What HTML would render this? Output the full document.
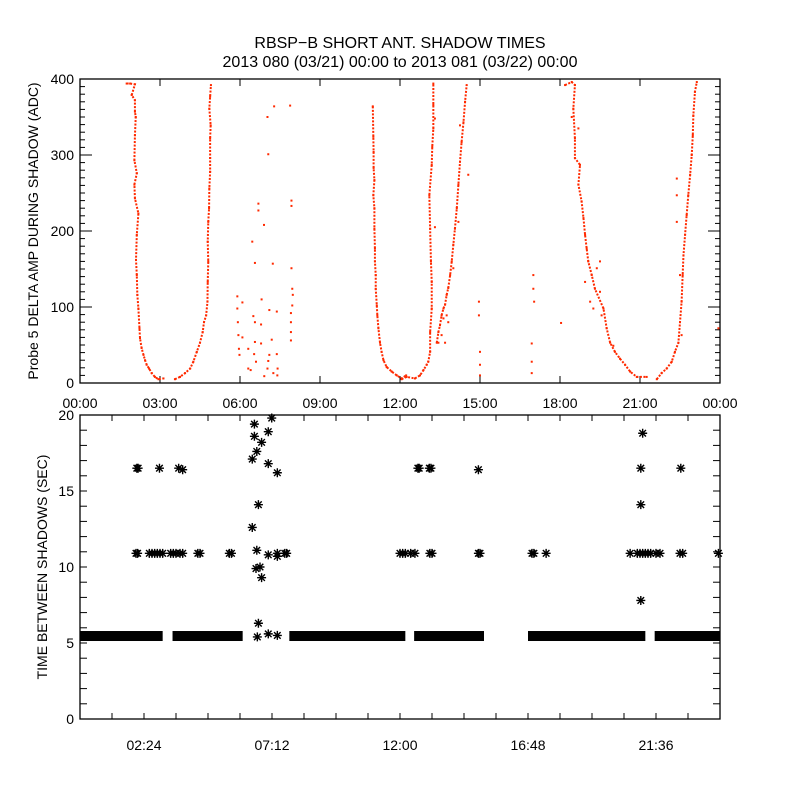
<!DOCTYPE html>
<html><head><meta charset="utf-8"><style>
body{margin:0;background:#fff;width:800px;height:800px;overflow:hidden}
svg text{font-family:"Liberation Sans",sans-serif;fill:#000}
</style></head><body>
<svg id="c" width="800" height="800" xmlns="http://www.w3.org/2000/svg">
<text x="400" y="48" font-size="16" text-anchor="middle">RBSP−B SHORT ANT. SHADOW TIMES</text>
<text x="400" y="67" font-size="16" text-anchor="middle">2013 080 (03/21) 00:00 to 2013 081 (03/22) 00:00</text>
<text transform="translate(38,231) rotate(-90)" font-size="14" text-anchor="middle">Probe 5 DELTA AMP DURING SHADOW (ADC)</text>
<text transform="translate(47,567) rotate(-90)" font-size="14" text-anchor="middle">TIME BETWEEN SHADOWS (SEC)</text>
<g id="topPanel"></g>
<g id="botPanel"></g>
</svg>
<script>
// ---- data ----
const topTicks=["00:00","03:00","06:00","09:00","12:00","15:00","18:00","21:00","00:00"];
const topYTicks=[0,100,200,300,400];
const botTickLabels=["02:24","07:12","12:00","16:48","21:36"];
const botYTicks=[0,5,10,15,20];
// top panel branches [hour, ADC]
const branchA=[[1.75,394],[1.88,394],[2.06,393],[1.94,379],[2.06,372],[2.06,357],[2.09,350],[2.06,326],[2.04,293],[2.13,276],[2.04,261],[2.06,243],[2.19,223],[2.13,195],[2.1,162],[2.13,142],[2.15,116],[2.19,98],[2.23,72],[2.25,59],[2.31,46],[2.38,37],[2.44,30],[2.5,24],[2.59,19],[2.69,13],[2.81,8],[2.94,5],[3.13,6]];
const branchB=[[3.56,5],[3.75,8],[3.94,13],[4.13,19],[4.25,28],[4.38,41],[4.5,53],[4.6,67],[4.65,80],[4.73,89],[4.78,107],[4.79,133],[4.81,160],[4.79,186],[4.81,212],[4.84,230],[4.85,256],[4.88,278],[4.88,296],[4.88,322],[4.9,339],[4.85,361],[4.88,377],[4.91,392]];
const scatterMid=[[5.9,114],[5.9,98],[5.92,80],[5.94,63],[5.96,45],[5.98,37],[6.09,106],[6.46,186],[6.56,158],[6.69,236],[6.69,227],[6.9,208],[6.81,110],[6.5,88],[6.56,80],[6.79,77],[6.09,60],[6.56,54],[6.79,52],[6.31,45],[6.53,38],[6.6,28],[6.31,19],[6.4,17],[6.91,9],[7.06,29],[7.03,19],[7.1,37],[7.19,57],[7.25,13],[7.38,38],[7.41,19],[7.4,10],[7.1,96],[7.38,94],[7.06,301],[7.03,350],[7.28,364],[7.88,365],[7.23,157],[7.93,240],[7.93,233],[7.93,151],[7.96,124],[7.98,116],[7.96,102],[7.91,92],[7.91,80],[7.91,67],[7.91,56],
[14.96,107],[14.96,89],[15,41],[15,24],[15,10],[17,142],[17,124],[17.03,107],[16.94,52],[16.94,28],[16.94,13],[18.04,79],[23.94,72]];
const branchC=[[10.98,364],[11,324],[11.01,304],[11.01,283],[11.04,267],[11,247],[11.04,230],[11.04,203],[11.06,177],[11.06,160],[11.09,142],[11.09,124],[11.13,102],[11.15,89],[11.19,72],[11.25,53],[11.31,41],[11.38,30],[11.5,21],[11.69,15],[11.88,10],[12.06,6],[12.23,10]];
const branchD=[[12.06,5],[12.25,8],[12.56,6],[12.75,10],[12.88,17],[13,24],[13.06,28],[13.13,41],[13.13,67],[13.19,98],[13.19,133],[13.16,160],[13.13,203],[13.1,247],[13.19,287],[13.21,311],[13.25,335],[13.25,366],[13.25,394]];
const branchE=[[13.38,53],[13.44,67],[13.5,76],[13.56,89],[13.63,98],[13.69,103],[13.75,116],[13.81,125],[13.88,142],[13.94,160],[14,182],[14.06,203],[14.13,230],[14.19,261],[14.25,291],[14.31,317],[14.38,343],[14.44,370],[14.5,392]];
const scatterE=[[13.31,348],[13.31,205],[13.44,53],[13.56,63],[13.75,89],[13.81,80],[14.25,339],[14.56,274],[14.19,212],[14,151],[13.63,85],[13.69,53],[18.44,350],[18.69,335],[19.38,151],[19.5,160],[19.5,120],[19.25,98],[18.94,133],[19.13,107],[19.56,89],[20,49],[22.38,269],[22.38,247],[22.38,212],[22.5,142],[22.56,63]];
const branchF=[[18.19,392],[18.44,396],[18.56,392],[18.5,361],[18.56,322],[18.56,296],[18.75,287],[18.69,261],[18.81,239],[18.88,217],[18.94,195],[19,177],[19.06,160],[19.19,142],[19.31,124],[19.63,98],[19.75,72],[19.88,53],[20.06,41],[20.25,32],[20.44,24],[20.63,15],[20.88,8],[21.25,8]];
const branchG=[[21.63,5],[21.81,13],[22,19],[22.19,28],[22.31,41],[22.44,53],[22.5,80],[22.56,107],[22.6,142],[22.63,168],[22.69,195],[22.75,221],[22.81,247],[22.88,274],[22.94,300],[22.98,326],[23,352],[23.06,383],[23.13,396]];
// bottom panel
const bandStart=[0,3.47,7.85,12.53,16.8,21.55];
const bandEnd=[3.1,6.1,12.2,15.15,21.2,24];
const bandValue=5.46;
const starH=[2.1,2.16,2.6,2.7,2.8,2.9,3.0,3.1,3.4,3.5,3.6,3.75,3.85,4.42,4.5,5.6,5.68,6.63,7.06,7.4,7.4,7.68,7.75,12.0,12.1,12.2,12.4,12.56,13.12,13.2,14.94,15.0,16.95,17.02,17.48,20.63,20.9,21.0,21.1,21.2,21.3,21.4,21.6,21.75,22.5,22.6,23.94,
2.13,2.18,2.98,3.7,3.85,12.67,12.72,13.1,13.16,14.94,21.03,22.53,
6.46,6.54,6.54,6.63,6.81,7.06,7.19,7.06,7.4,6.69,6.46,6.6,6.75,6.81,6.69,6.65,7.06,7.4,21.1,21.03,21.03];
const starV=[10.9,10.9,10.9,10.9,10.9,10.9,10.9,10.9,10.9,10.9,10.9,10.9,10.9,10.9,10.9,10.9,10.9,11.1,10.8,10.9,10.7,10.9,10.9,10.9,10.9,10.9,10.9,10.9,10.9,10.9,10.9,10.9,10.9,10.9,10.9,10.9,10.9,10.9,10.9,10.9,10.9,10.9,10.9,10.9,10.9,10.9,10.9,
16.5,16.5,16.5,16.5,16.4,16.5,16.5,16.5,16.5,16.4,16.5,16.5,
17.1,19.4,18.6,17.6,18.2,18.9,19.8,16.8,16.2,14.1,12.6,9.9,10.0,9.3,6.3,5.4,5.6,5.5,18.8,14.1,7.8];
// ---- drawing ----
const NS="http://www.w3.org/2000/svg";
function el(tag,attrs,parent){const e=document.createElementNS(NS,tag);for(const k in attrs)e.setAttribute(k,attrs[k]);parent.appendChild(e);return e;}
const L=80,R=720;
const xS=h=>L+h*(R-L)/24;
const T1=79,B1=383,yT=v=>B1-v*(B1-T1)/400;
const T2=415,B2=719,yB=v=>B2-v*(B2-T2)/20;
const topG=document.getElementById('topPanel'),botG=document.getElementById('botPanel');
let f=el('rect',{x:L,y:T1,width:R-L,height:B1-T1,fill:'none',stroke:'#000','stroke-width':1.3},topG);


topTicks.forEach((t,i)=>{const x=xS(i*3);
 el('line',{x1:x,x2:x,y1:B1,y2:B1-7,stroke:'#000'},topG);el('line',{x1:x,x2:x,y1:T1,y2:T1+7,stroke:'#000'},topG);
 const tx=el('text',{x:x,y:408,'font-size':14,'text-anchor':'middle'},topG);tx.textContent=t;
 
 });
for(let v=0;v<=400;v+=10){const y=yT(v),len=v%100===0?12:5;
 el('line',{x1:L,x2:L+len,y1:y,y2:y,stroke:'#000'},topG);el('line',{x1:R,x2:R-len,y1:y,y2:y,stroke:'#000'},topG);}
topYTicks.forEach(v=>{const tx=el('text',{x:74,y:yT(v)+5,'font-size':14,'text-anchor':'end'},topG);tx.textContent=v;
 
 });
const branches=[branchA,branchB,branchC,branchD,branchE,branchF,branchG];
branches.forEach(b=>{const pl=el('polyline',{points:b.map(p=>xS(p[0])+','+yT(p[1])).join(' '),fill:'none',stroke:'#ff2a00','stroke-width':2,'stroke-dasharray':'2 1.5'},topG);
 
 });
[...branches.flat(),...scatterMid,...scatterE].forEach(p=>{const r=el('rect',{x:xS(p[0])-1,y:yT(p[1])-1,width:2,height:2,fill:'#ff2a00'},topG);
 
 });
f=el('rect',{x:L,y:T2,width:R-L,height:B2-T2,fill:'none',stroke:'#000','stroke-width':1.3},botG);


for(let h=1.2;h<24;h+=1.2){const x=xS(h);
 el('line',{x1:x,x2:x,y1:B2,y2:B2-6,stroke:'#000'},botG);el('line',{x1:x,x2:x,y1:T2,y2:T2+6,stroke:'#000'},botG);}
botTickLabels.forEach((t,i)=>{const tx=el('text',{x:xS(2.4+i*4.8),y:750,'font-size':14,'text-anchor':'middle'},botG);tx.textContent=t;
 
 });
for(let v=0;v<=20;v+=1){const y=yB(v);
 el('line',{x1:L,x2:L+7,y1:y,y2:y,stroke:'#000'},botG);el('line',{x1:R,x2:R-7,y1:y,y2:y,stroke:'#000'},botG);}
botYTicks.forEach(v=>{const tx=el('text',{x:74,y:yB(v)+5,'font-size':14,'text-anchor':'end'},botG);tx.textContent=v;
 
 });
bandStart.forEach((s,i)=>{const x1=Math.max(L,xS(s)),x2=Math.min(R,xS(bandEnd[i]));
 const r=el('rect',{x:x1,y:yB(bandValue)-5,width:x2-x1,height:10,fill:'#000'},botG);
 
 });
starH.forEach((h,i)=>{const x=xS(h),y=yB(starV[i]),s=4.5,d=3.3;
 const p=el('path',{d:`M${x-s},${y}H${x+s}M${x},${y-s}V${y+s}M${x-d},${y-d}L${x+d},${y+d}M${x-d},${y+d}L${x+d},${y-d}`,stroke:'#000','stroke-width':1.4,fill:'none'},botG);
 
 });
</script>
</body></html>
